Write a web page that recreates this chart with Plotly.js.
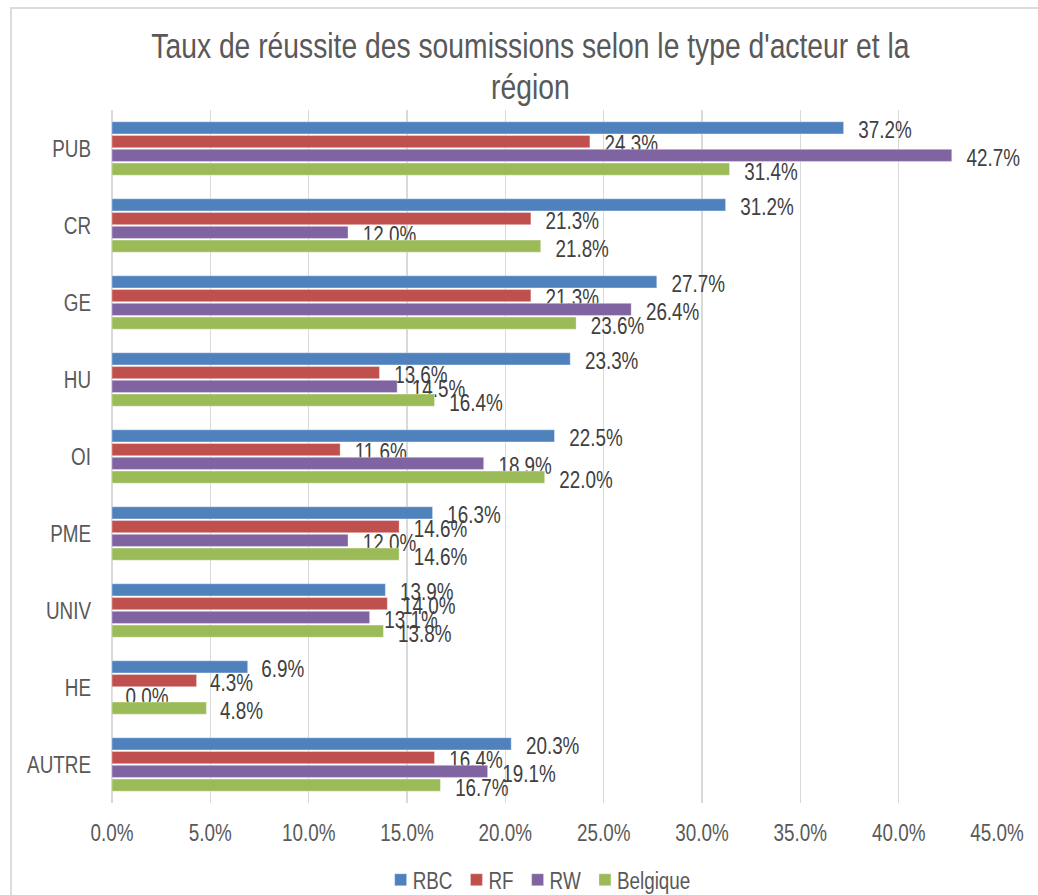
<!DOCTYPE html>
<html>
<head>
<meta charset="utf-8">
<script src="https://cdn.plot.ly/plotly-3.0.1.min.js"></script>
<style>
  html, body { margin: 0; padding: 0; width: 1038px; height: 895px; overflow: hidden; background: #ffffff; }
  #frame { position: absolute; left: 10px; top: 7px; width: 1100px; height: 1000px; border: 2px solid #dcdcdc; box-sizing: border-box; }
  #chart { position: absolute; left: 0; top: 0; width: 1038px; height: 895px; }
</style>
</head>
<body>
<div id="frame"></div>
<div id="chart"></div>
<script>
const categories = ['PUB', 'CR', 'GE', 'HU', 'OI', 'PME', 'UNIV', 'HE', 'AUTRE'];
const seriesNames = ['RBC', 'RF', 'RW', 'Belgique'];
const rbc      = [37.2, 31.2, 27.7, 23.3, 22.5, 16.3, 13.9, 6.9, 20.3];
const rf       = [24.3, 21.3, 21.3, 13.6, 11.6, 14.6, 14.0, 4.3, 16.4];
const rw       = [42.7, 12.0, 26.4, 14.5, 18.9, 12.0, 13.1, 0.0, 19.1];
const belgique = [31.4, 21.8, 23.6, 16.4, 22.0, 14.6, 13.8, 4.8, 16.7];
const xTicks = [0, 5, 10, 15, 20, 25, 30, 35, 40, 45];
const xTickText = xTicks.map(v => v.toFixed(1) + '%');

// Liberation Sans rendered with a horizontal squeeze to mimic a narrow face
const FONT = "'Liberation Sans', Arial, sans-serif";
const SX = 0.82;
const colors = ['#4f81bd', '#c0504d', '#8064a2', '#9bbb59'];
const values = [rbc, rf, rw, belgique];

const traces = values.map((vals, i) => ({
  type: 'bar',
  orientation: 'h',
  name: seriesNames[i],
  y: categories,
  x: vals,
  marker: { color: colors[i], line: { color: 'rgba(255,255,255,0.35)', width: 1 } },
  texttemplate: '\u00a0%{x:.1f}%',
  textposition: 'outside',
  constraintext: 'none',
  cliponaxis: false,
  textfont: { family: FONT, size: 23, color: '#404040' },
  hoverinfo: 'x+name'
}));

const layout = {
  width: 1038,
  height: 895,
  paper_bgcolor: 'rgba(0,0,0,0)',
  plot_bgcolor: 'rgba(0,0,0,0)',
  margin: { l: 112, r: 41, t: 110, b: 92, pad: 0 },
  barmode: 'group',
  bargap: 0.285,
  bargroupgap: 0.12,
  font: { family: FONT, size: 23, color: '#595959' },
  title: {
    text: "Taux de réussite des soumissions selon le type d'acteur et la<br>région",
    font: { family: FONT, size: 34.5, color: '#595959' },
    x: 0.511, xanchor: 'center', xref: 'container',
    y: 0.9357, yanchor: 'top', yref: 'container'
  },
  xaxis: {
    range: [0, 45],
    tickvals: xTicks,
    ticktext: xTickText,
    showgrid: true,
    gridcolor: '#d9d9d9',
    gridwidth: 1.5,
    zeroline: true,
    zerolinecolor: '#d9d9d9',
    zerolinewidth: 1.5,
    showline: false,
    ticks: '',
    ticklabelstandoff: 14,
    tickfont: { family: FONT, size: 23, color: '#595959' },
    automargin: false,
    fixedrange: true
  },
  yaxis: {
    type: 'category',
    categoryorder: 'array',
    categoryarray: categories,
    autorange: 'reversed',
    showgrid: false,
    zeroline: false,
    showline: false,
    ticks: '',
    ticklabelstandoff: 20,
    tickfont: { family: FONT, size: 23, color: '#595959' },
    automargin: false,
    fixedrange: true
  },
  legend: {
    orientation: 'h',
    xref: 'container', yref: 'container',
    x: 0.522, xanchor: 'center',
    y: 0.017, yanchor: 'middle',
    font: { family: FONT, size: 23, color: '#595959' },
    traceorder: 'normal',
    itemwidth: 30,
    bgcolor: 'rgba(0,0,0,0)'
  },
  showlegend: true
};

function tidyLegend(gd) {
  const groups = Array.from(gd.querySelectorAll('.legend .traces'));
  if (!groups.length) return;
  const items = groups.map(g => {
    const t = g.querySelector('text.legendtext');
    const sym = g.querySelector('.legendpoints path') || g.querySelector('path');
    const ctm = g.getScreenCTM();
    const s = sym.getBoundingClientRect();
    const symRightLocal = s.right - ctm.e;
    const w = t.getBBox().width * SX;
    return { g, t, s, symRightLocal, symW: s.width, w };
  });
  const GAP_TEXT = 6, GAP_ITEM = 18, CENTER = 542.5;
  let total = 0;
  items.forEach((it, i) => { total += it.symW + GAP_TEXT + it.w + (i ? GAP_ITEM : 0); });
  let L = CENTER - total / 2;
  items.forEach(it => {
    it.t.setAttribute('x', it.symRightLocal + GAP_TEXT);
    const m = /translate\(\s*([-\d.e]+)[ ,]+([-\d.e]+)\s*\)/.exec(it.g.getAttribute('transform') || '');
    const tx = m ? parseFloat(m[1]) : 0, ty = m ? parseFloat(m[2]) : 0;
    const shift = L - it.s.left;
    it.g.setAttribute('transform', 'translate(' + (tx + shift) + ',' + ty + ')');
    L += it.symW + GAP_TEXT + it.w + GAP_ITEM;
  });
}

function tightenTitle(gd) {
  const lines = gd.querySelectorAll('.gtitle tspan.line');
  for (let i = 1; i < lines.length; i++) lines[i].setAttribute('dy', '1.2em');
}

function condense(gd) {
  gd.querySelectorAll('svg text').forEach(t => {
    const x = parseFloat(t.getAttribute('x')) || 0;
    const old = t.getAttribute('transform') || '';
    const dy = t.classList.contains('bartext') ? 2.5 : 0;
    t.setAttribute('transform', old + ' translate(' + x + ',' + dy + ') scale(' + SX + ',1) translate(' + (-x) + ',0)');
  });
}

Plotly.newPlot('chart', traces, layout, { displayModeBar: false, staticPlot: true }).then(gd => {
  tidyLegend(gd);
  tightenTitle(gd);
  condense(gd);
});
</script>
</body>
</html>
